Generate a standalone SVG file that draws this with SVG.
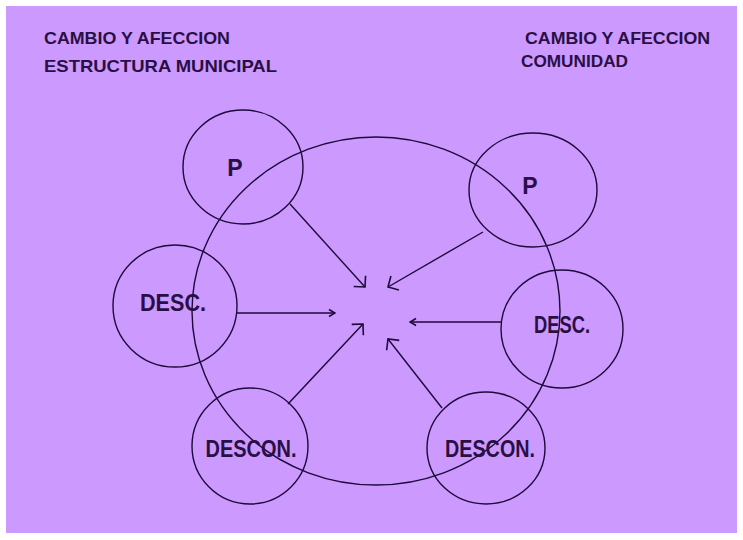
<svg xmlns="http://www.w3.org/2000/svg" width="743" height="540" viewBox="0 0 743 540">
<style>
.t{font-family:"Liberation Sans",Arial,sans-serif;font-weight:bold;fill:#2a0f45}
.h{font-size:17px}
.n{font-size:23px;text-anchor:middle}
.c{fill:none;stroke:#1e0a3a;stroke-width:1.4}
.a{fill:none;stroke:#1e0a3a;stroke-width:1.4}
</style>
<defs>
<marker id="big" markerUnits="userSpaceOnUse" markerWidth="12" markerHeight="20" viewBox="0 0 12 20" refX="10" refY="10" orient="auto">
<path d="M2,2 L10,10 L2,18" fill="none" stroke="#1e0a3a" stroke-width="1.6"/>
</marker>
<marker id="small" markerUnits="userSpaceOnUse" markerWidth="8" markerHeight="10" viewBox="0 0 8 10" refX="7" refY="5" orient="auto">
<path d="M1,1.5 L7,5 L1,8.5" fill="none" stroke="#1e0a3a" stroke-width="1.6"/>
</marker>
</defs>
<rect x="0" y="0" width="743" height="540" fill="#ffffff"/>
<rect x="6" y="6" width="731" height="527" fill="#cc99ff"/>
<g id="titles">
<text class="t h" x="44" y="44" textLength="186" lengthAdjust="spacingAndGlyphs">CAMBIO Y AFECCION</text>
<text class="t h" x="44" y="72" textLength="233" lengthAdjust="spacingAndGlyphs">ESTRUCTURA  MUNICIPAL</text>
<text class="t h" x="525" y="44" textLength="185" lengthAdjust="spacingAndGlyphs">CAMBIO Y AFECCION</text>
<text class="t h" x="521" y="67" textLength="107" lengthAdjust="spacingAndGlyphs">COMUNIDAD</text>
</g>
<g id="big-ellipse">
<ellipse class="c" cx="376" cy="311" rx="184" ry="174"/>
</g>
<g id="node-p-left">
<ellipse class="c" cx="243" cy="167" rx="60" ry="57"/>
<text class="t n" x="235" y="176">P</text>
</g>
<g id="node-p-right">
<ellipse class="c" cx="533" cy="190" rx="64" ry="57"/>
<text class="t n" x="530" y="194">P</text>
</g>
<g id="node-desc-left">
<ellipse class="c" cx="175" cy="306" rx="62" ry="61"/>
<text class="t n" x="173" y="311" textLength="66" lengthAdjust="spacingAndGlyphs">DESC.</text>
</g>
<g id="node-desc-right">
<ellipse class="c" cx="562" cy="329" rx="61" ry="59"/>
<text class="t n" x="562" y="333" textLength="56" lengthAdjust="spacingAndGlyphs">DESC.</text>
</g>
<g id="node-descon-left">
<ellipse class="c" cx="250" cy="446" rx="58" ry="58"/>
<text class="t n" x="251" y="457" textLength="91" lengthAdjust="spacingAndGlyphs">DESCON.</text>
</g>
<g id="node-descon-right">
<ellipse class="c" cx="486" cy="448" rx="59" ry="56"/>
<text class="t n" x="490" y="457" textLength="90" lengthAdjust="spacingAndGlyphs">DESCON.</text>
</g>
<g id="connectors">
<line class="a" x1="290" y1="204" x2="365" y2="287" marker-end="url(#big)"/>
<line class="a" x1="483" y1="232" x2="388" y2="287" marker-end="url(#big)"/>
<line class="a" x1="236" y1="313" x2="335" y2="313" marker-end="url(#small)"/>
<line class="a" x1="502" y1="322" x2="410" y2="322" marker-end="url(#small)"/>
<line class="a" x1="288" y1="404" x2="363" y2="324" marker-end="url(#big)"/>
<line class="a" x1="442" y1="408" x2="388" y2="339" marker-end="url(#big)"/>
</g>
</svg>
